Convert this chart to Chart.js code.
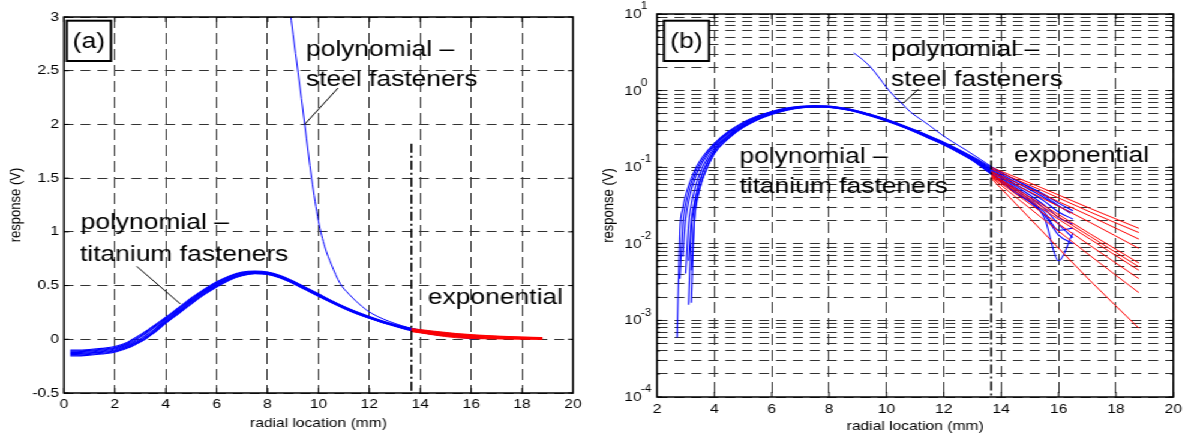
<!DOCTYPE html>
<html><head><meta charset="utf-8">
<script src="https://cdn.jsdelivr.net/npm/chart.js@4.4.0/dist/chart.umd.min.js"></script>
<style>
html,body{margin:0;padding:0;background:#fff;overflow:hidden;}
#wrap{position:absolute;left:0;top:0;width:990px;height:443px;transform:scaleX(1.2);transform-origin:0 0;}
#c1{position:absolute;left:0;top:0;}
#c2{position:absolute;left:492px;top:0;}
</style></head><body>
<div id="wrap"><canvas id="c1" width="492" height="443"></canvas><canvas id="c2" width="498" height="443"></canvas></div>
<script>
// ---------------- data ----------------
const radialGrid = [0.25,0.5,1,1.5,2,2.5,2.7,2.8,2.9,3.0,3.1,3.2,3.3,3.4,3.6,4,4.5,5,5.5,6,6.5,7,7.5,8,8.5,9,9.5,10,10.5,11,11.5,12,12.5,13,13.7,14.5,15.5,16,16.5];
const titanium1 = [-0.100,-0.100,-0.095,-0.085,-0.068,-0.028,0.0006,0.015,0.029,0.043,0.057,0.072,0.088,0.105,0.138,0.205,0.295,0.385,0.465,0.535,0.590,0.625,0.635,0.627,0.593,0.543,0.483,0.423,0.362,0.306,0.256,0.212,0.172,0.137,0.098,0.068,0.044,0.034,0.027];
const titanium2 = [-0.108,-0.108,-0.103,-0.093,-0.076,-0.036,-0.010,0.0035,0.018,0.032,0.047,0.062,0.078,0.095,0.128,0.197,0.286,0.376,0.457,0.528,0.584,0.620,0.631,0.623,0.590,0.540,0.480,0.420,0.359,0.303,0.253,0.209,0.169,0.134,0.094,0.064,0.040,0.031,0.025];
const titanium3 = [-0.116,-0.116,-0.110,-0.100,-0.083,-0.044,-0.022,-0.008,0.0068,0.021,0.036,0.051,0.067,0.084,0.118,0.189,0.278,0.368,0.450,0.521,0.578,0.615,0.627,0.620,0.586,0.536,0.476,0.416,0.356,0.300,0.250,0.206,0.166,0.131,0.091,0.060,0.036,0.026,0.021];
const titanium4 = [-0.124,-0.124,-0.118,-0.107,-0.091,-0.052,-0.033,-0.021,-0.009,0.0041,0.018,0.033,0.049,0.066,0.102,0.178,0.268,0.359,0.442,0.514,0.572,0.610,0.623,0.616,0.582,0.532,0.472,0.412,0.352,0.297,0.247,0.204,0.164,0.129,0.088,0.057,0.032,0.022,0.018];
const titanium5 = [-0.132,-0.132,-0.126,-0.115,-0.099,-0.060,-0.042,-0.031,-0.020,-0.009,0.0016,0.015,0.031,0.050,0.088,0.168,0.259,0.350,0.434,0.507,0.566,0.605,0.619,0.612,0.578,0.528,0.468,0.408,0.348,0.294,0.244,0.201,0.161,0.127,0.085,0.054,0.029,0.018,0.012];
const titanium6 = [-0.140,-0.140,-0.133,-0.122,-0.106,-0.067,-0.048,-0.037,-0.025,-0.010,0.006,0.020,0.034,0.050,0.085,0.162,0.252,0.343,0.427,0.500,0.561,0.600,0.616,0.609,0.575,0.525,0.465,0.405,0.346,0.291,0.241,0.199,0.159,0.125,0.082,0.051,0.026,0.015,0.016];
const titanium7 = [-0.148,-0.148,-0.141,-0.130,-0.113,-0.075,-0.056,-0.045,-0.033,-0.021,-0.009,0.0045,0.020,0.037,0.072,0.152,0.243,0.335,0.420,0.494,0.556,0.596,0.613,0.606,0.572,0.522,0.462,0.402,0.344,0.289,0.239,0.197,0.157,0.123,0.080,0.048,0.024,0.013,0.010];
const titanium8 = [-0.155,-0.155,-0.148,-0.137,-0.120,-0.082,-0.062,-0.050,-0.038,-0.025,-0.012,0.0017,0.020,0.040,0.072,0.150,0.238,0.328,0.413,0.487,0.550,0.592,0.610,0.603,0.570,0.520,0.460,0.400,0.342,0.287,0.237,0.195,0.156,0.122,0.078,0.046,0.022,0.006,0.014];

const steelX = [8.86,9.0,9.2,9.46,9.73,10.0,10.25,10.5,10.85,11.2,11.5,11.9,12.3,12.8,13.3,13.7,14.5,15.5,16.4];
const steelY = [3.1,2.84,2.48,2.0,1.5,1.1,0.86,0.70,0.52,0.42,0.35,0.27,0.215,0.165,0.125,0.10,0.068,0.042,0.025];

const expX  = [13.65,15.4,17.1,18.8];
const exp1  = [0.100,0.054,0.029,0.0159];
const exp2  = [0.095,0.050,0.026,0.0140];
const exp3  = [0.088,0.045,0.023,0.0115];
const exp4  = [0.085,0.040,0.019,0.0087];
const exp5  = [0.082,0.033,0.0135,0.0056];
const exp6  = [0.080,0.031,0.0125,0.0050];
const exp7  = [0.078,0.029,0.0115,0.0045];
const exp8  = [0.076,0.026,0.0095,0.0035];
const exp9  = [0.074,0.022,0.0070,0.0023];
const exp10 = [0.072,0.015,0.0033,0.00079];

const boundaryX = 13.65;
const boundaryLin = [1.82,-0.5];
const boundaryLog = [0.34,0.0001];

const xTicksLeft  = [0,2,4,6,8,10,12,14,16,18,20];
const xTicksRight = [2,4,6,8,10,12,14,16,18,20];
const yTicksLin   = [-0.5,0,0.5,1,1.5,2,2.5,3];
const logDecades  = [-4,-3,-2,-1,0,1];

// ---------------- helpers ----------------
const FONT = '"Liberation Sans", Arial, Helvetica, sans-serif';
Chart.defaults.font.family = FONT;
Chart.defaults.font.size = 13;
Chart.defaults.color = '#000';
const BLUE = '#0000ff', RED = '#ff0000', GRID = '#333';
const titaniumCurves = [titanium1,titanium2,titanium3,titanium4,titanium5,titanium6,titanium7,titanium8];
const expCurves = [exp1,exp2,exp3,exp4,exp5,exp6,exp7,exp8,exp9,exp10];
const pts = (xs, ys) => xs.map((x,i)=>({x, y: ys[i]}));

function buildDatasets(boundary){
  const ds = [];
  ds.push({data: pts([boundaryX,boundaryX], boundary), borderColor:'#000', borderWidth:1.5, borderDash:[9,3,2,3], cubicInterpolationMode:'default', tension:0});
  expCurves.forEach(c => ds.push({data: pts(expX,c), borderColor: RED, borderWidth: 1}));
  ds.push({data: pts(steelX, steelY), borderColor: BLUE, borderWidth: 1});
  titaniumCurves.forEach(c => ds.push({data: pts(radialGrid,c), borderColor: BLUE, borderWidth: 1.1}));
  return ds;
}

const isPow10 = v => Math.abs(Math.log10(v) - Math.round(Math.log10(v))) < 1e-6;

function decor(spec){
  return {id:'decor', afterDraw(chart){
    const {ctx, chartArea:a} = chart; const xs = chart.scales.x, ys = chart.scales.y;
    ctx.save();
    ctx.setLineDash([]);
    ctx.strokeStyle = '#000';
    ctx.lineWidth = 1;
    ctx.beginPath();
    xs.ticks.forEach(t=>{const p = xs.getPixelForValue(t.value); ctx.moveTo(p,a.bottom); ctx.lineTo(p,a.bottom-5); ctx.moveTo(p,a.top); ctx.lineTo(p,a.top+5);});
    ys.ticks.forEach(t=>{const p = ys.getPixelForValue(t.value); const L = (!spec.log || isPow10(t.value)) ? 4.2 : 2.5; ctx.moveTo(a.left,p); ctx.lineTo(a.left+L,p); ctx.moveTo(a.right,p); ctx.lineTo(a.right-L,p);});
    ctx.stroke();
    ctx.lineWidth = 1.5;
    ctx.strokeRect(a.left, a.top, a.right-a.left, a.bottom-a.top);
    // panel tag
    const b = spec.tag;
    ctx.fillStyle = '#fff';
    ctx.fillRect(a.left+b.dx, a.top+b.dy, b.w, b.h);
    ctx.lineWidth = 2;
    ctx.strokeRect(a.left+b.dx, a.top+b.dy, b.w, b.h);
    ctx.fillStyle = '#000';
    ctx.font = '22px ' + FONT;
    ctx.textAlign = 'center'; ctx.textBaseline = 'middle';
    ctx.fillText(b.text, a.left+b.dx+b.w/2, a.top+b.dy+b.h/2+1);
    // annotations
    ctx.textAlign = 'left'; ctx.textBaseline = 'alphabetic';
    spec.texts.forEach(t => ctx.fillText(t.text, xs.getPixelForValue(t.x), ys.getPixelForValue(t.y)));
    ctx.lineWidth = 1;
    ctx.beginPath();
    spec.leaders.forEach(l => {ctx.moveTo(xs.getPixelForValue(l[0]), ys.getPixelForValue(l[1])); ctx.lineTo(xs.getPixelForValue(l[2]), ys.getPixelForValue(l[3]));});
    ctx.stroke();
    // log tick labels with exponents
    if (spec.log) {
      logDecades.forEach(k => {
        const p = ys.getPixelForValue(Math.pow(10,k));
        ctx.font = '13px ' + FONT; ctx.textBaseline = 'middle'; ctx.textAlign = 'left';
        ctx.fillText('10', 28.3, p+0.5);
        ctx.font = '10px ' + FONT;
        ctx.fillText(String(k), 42, p-7.5);
      });
    }
    ctx.restore();
  }};
}

function commonX(ticksArr, pad, titlePad){
  return {type:'linear', min: ticksArr[0], max: 20,
    afterBuildTicks: s => { s.ticks = ticksArr.map(v => ({value:v})); },
    afterFit: s => { s.height = titlePad.h; },
    ticks:{autoSkip:false, maxRotation:0, padding: pad, callback: v => String(v), font:{size:13}},
    grid:{color: GRID, lineWidth:1, drawTicks:false},
    border:{display:false, dash:[11,5]},
    title:{display:true, text:'radial location (mm)', font:{size:13}, padding:{top:0, bottom:titlePad.p}}
  };
}

const baseDatasetOpts = {pointRadius:0, fill:false, cubicInterpolationMode:'monotone'};

// ---------------- left chart (linear) ----------------
new Chart(document.getElementById('c1'), {
  type:'line',
  data:{datasets: buildDatasets(boundaryLin)},
  options:{
    responsive:false, animation:false, devicePixelRatio:1,
    datasets:{line: baseDatasetOpts},
    layout:{padding:{left:0, right:14.5, top:17, bottom:0}},
    plugins:{legend:{display:false}, tooltip:{enabled:false}},
    scales:{
      x: commonX(xTicksLeft, 4, {h:50, p:11.7}),
      y: {type:'linear', min:-0.5, max:3,
        afterBuildTicks: s => { s.ticks = yTicksLin.map(v => ({value:v})); },
        afterFit: s => { s.width = 53.3; },
        ticks:{autoSkip:false, padding:4, callback: v => String(v), font:{size:13}},
        grid:{color: GRID, lineWidth:1, drawTicks:false},
        border:{display:false, dash:[8.3,5.8]},
        title:{display:true, text:'response (V)', font:{size:13}, padding:{top:6, bottom:0}}
      }
    }
  },
  plugins:[decor({log:false,
    tag:{text:'(a)', dx:2.3, dy:3.7, w:36.9, h:40.3},
    texts:[
      {text:'polynomial \u2013', x:9.51, y:2.637},
      {text:'steel fasteners', x:9.51, y:2.358},
      {text:'polynomial \u2013', x:0.656, y:1.031},
      {text:'titanium fasteners', x:0.63, y:0.729},
      {text:'exponential', x:14.30, y:0.333}
    ],
    leaders:[[10.77,2.339,9.47,2.004],[2.857,0.679,4.578,0.328]]
  })]
});

// ---------------- right chart (log) ----------------
new Chart(document.getElementById('c2'), {
  type:'line',
  data:{datasets: buildDatasets(boundaryLog)},
  options:{
    responsive:false, animation:false, devicePixelRatio:1,
    datasets:{line: baseDatasetOpts},
    layout:{padding:{left:0, right:9.2, top:14, bottom:0}},
    plugins:{legend:{display:false}, tooltip:{enabled:false}},
    scales:{
      x: commonX(xTicksRight, 5, {h:46, p:9.2}),
      y: {type:'logarithmic', min:1e-4, max:10,
        afterBuildTicks: s => {
          const t = [];
          logDecades.forEach(k => { const top = (k === logDecades[logDecades.length-1]) ? 1 : 9; for (let m=1; m<=top; m++) t.push({value: +(m*Math.pow(10,k)).toPrecision(6)}); });
          s.ticks = t;
        },
        afterFit: s => { s.width = 55.5; },
        ticks:{display:false, autoSkip:false},
        grid:{color: GRID, lineWidth:1, drawTicks:false},
        border:{display:false, dash:[8.3,5.8]},
        title:{display:true, text:'response (V)', font:{size:13}, padding:{top:7.2, bottom:0}}
      }
    }
  },
  plugins:[decor({log:true,
    tag:{text:'(b)', dx:5.8, dy:6.7, w:37.5, h:40.3},
    texts:[
      {text:'polynomial \u2013', x:10.16, y:2.87},
      {text:'steel fasteners', x:10.16, y:1.148},
      {text:'polynomial \u2013', x:4.873, y:0.1135},
      {text:'titanium fasteners', x:4.873, y:0.0456},
      {text:'exponential', x:14.45, y:0.117}
    ],
    leaders:[[11.12,1.05,10.58,0.682]]
  })]
});
</script>
</body></html>
